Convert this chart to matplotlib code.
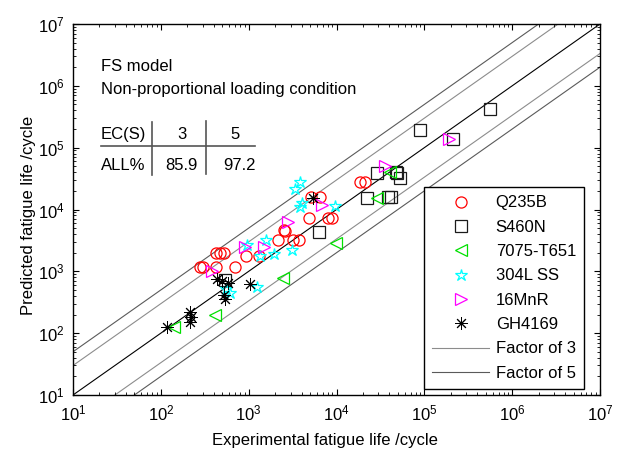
import matplotlib
matplotlib.use('Agg')
import matplotlib.pyplot as plt
from matplotlib.lines import Line2D
import numpy as np

plt.rcParams['font.family'] = ['Liberation Sans', 'DejaVu Sans']
plt.rcParams['mathtext.fontset'] = 'custom'
plt.rcParams['mathtext.rm'] = 'Liberation Sans'
plt.rcParams['font.size'] = 12

# experimental life (x) vs predicted life (y)
q235b_exp = [18600, 21200, 5100, 6500, 4900, 8100, 8800, 2550, 2600, 2130, 3230,
             3780, 930, 1310, 425, 470, 525, 280, 305, 425, 700]
q235b_pred = [28300, 28300, 16200, 16200, 7200, 7200, 7200, 4700, 4500, 3200, 3200,
              3200, 1780, 1780, 2000, 2000, 2000, 1190, 1190, 1190, 1190]

s460n_exp = [561000, 88400, 210000, 28800, 47100, 49400, 53500, 22300, 38200, 41500, 6340, 538]
s460n_pred = [420000, 194000, 139000, 39100, 41000, 39500, 31900, 15600, 16000, 16200, 4340, 726]

al7075_exp = [40700, 28800, 9970, 2440, 414, 141]
al7075_pred = [40300, 15400, 2850, 773, 199, 128]

ss304l_exp = [3850, 3375, 4010, 3850, 9640, 1578, 3096, 1946, 1331, 946, 553, 614, 1247]
ss304l_pred = [28270, 21500, 12650, 11140, 11430, 3220, 2245, 1933, 1775, 2673, 519, 439, 559]

mnr16_exp = [190500, 35300, 6850, 2833, 910, 1497, 383]
mnr16_pred = [139000, 50800, 11870, 6370, 2510, 2510, 1015]

gh4169_exp = [5460, 437, 498, 582, 1038, 525, 538, 215, 221, 215, 119]
gh4169_pred = [15240, 745, 700, 642, 618, 415, 351, 220, 183, 152, 128]

limits = [1e1, 1e7]
factors = [3, 5]

fig = plt.figure(figsize=(6.18, 4.53), dpi=100)
ax = fig.add_axes([73 / 618, 1 - 395 / 453, 527 / 618, 371 / 453])
ax.set_xscale('log')
ax.set_yscale('log')
ax.set_xlim(limits)
ax.set_ylim(limits)

# scatter bands
line = np.array(limits)
ax.plot(line, line, color='black', lw=0.8, zorder=1)
h3, = ax.plot(line, line * factors[0], color='#8c8c8c', lw=0.8, zorder=1)
ax.plot(line, line / factors[0], color='#8c8c8c', lw=0.8, zorder=1)
h5, = ax.plot(line, line * factors[1], color='#5a5a5a', lw=0.8, zorder=1)
ax.plot(line, line / factors[1], color='#5a5a5a', lw=0.8, zorder=1)

mk = dict(ls='none', mfc='none', mew=0.9, zorder=3)
p1, = ax.plot(q235b_exp, q235b_pred, marker='o', ms=8, mec='#ff0000', **mk)
p2, = ax.plot(s460n_exp, s460n_pred, marker='s', ms=8, mec='#1a1a1a', **mk)
p3, = ax.plot(al7075_exp, al7075_pred, marker='<', ms=9, mec='#00e000', **mk)
p4, = ax.plot(ss304l_exp, ss304l_pred, marker='*', ms=9, mec='#00ffff', **mk)
p5, = ax.plot(mnr16_exp, mnr16_pred, marker='>', ms=9, mec='#ff00ff', **mk)
p6, = ax.plot(gh4169_exp, gh4169_pred, marker=(8, 2, 0), ms=9, mec='black',
              ls='none', mew=0.7, zorder=3)

ax.tick_params(which='both', direction='in', top=True, right=True, labelsize=12)
ax.tick_params(which='major', length=4, pad=6)
ax.tick_params(which='minor', length=2)
for s in ax.spines.values():
    s.set_linewidth(1.0)

fig.text(325 / 618, 1 - 440 / 453, 'Experimental fatigue life /cycle',
         ha='center', va='center', fontsize=12)
fig.text(28 / 618, 1 - 215 / 453, 'Predicted fatigue life /cycle',
         ha='center', va='center', rotation=90, fontsize=12)

# annotation block with the small table
tr = ax.transAxes
ax.text(0.0526, 0.885, 'FS model', transform=tr, va='center', fontsize=12)
ax.text(0.0526, 0.824, 'Non-proportional loading condition', transform=tr,
        va='center', fontsize=12)
ax.text(0.0526, 0.701, 'EC(S)', transform=tr, va='center', fontsize=12)
ax.text(0.206, 0.701, '3', transform=tr, va='center', ha='center', fontsize=12)
ax.text(0.307, 0.701, '5', transform=tr, va='center', ha='center', fontsize=12)
ax.text(0.0526, 0.618, 'ALL%', transform=tr, va='center', fontsize=12)
ax.text(0.206, 0.618, '85.9', transform=tr, va='center', ha='center', fontsize=12)
ax.text(0.315, 0.618, '97.2', transform=tr, va='center', ha='center', fontsize=12)
tc = '#555555'
ax.add_line(Line2D([0.0526, 0.346], [0.672, 0.672], transform=tr, color=tc, lw=1.2))
ax.add_line(Line2D([0.149, 0.149], [0.593, 0.737], transform=tr, color=tc, lw=1.2))
ax.add_line(Line2D([0.252, 0.252], [0.596, 0.739], transform=tr, color=tc, lw=1.2))

leg = ax.legend([p1, p2, p3, p4, p5, p6, h3, h5],
                ['Q235B', 'S460N', '7075-T651', '304L SS', '16MnR', 'GH4169',
                 'Factor of 3', 'Factor of 5'],
                loc='upper left', bbox_to_anchor=(424 / 618, 1 - 187 / 453),
                bbox_transform=fig.transFigure, borderaxespad=0, fancybox=False,
                edgecolor='black', framealpha=1, fontsize=12, handlelength=3.4,
                handletextpad=0.4, labelspacing=0.56, borderpad=0.5)
leg.get_frame().set_linewidth(1.0)

fig.savefig('out.png', dpi=100)
